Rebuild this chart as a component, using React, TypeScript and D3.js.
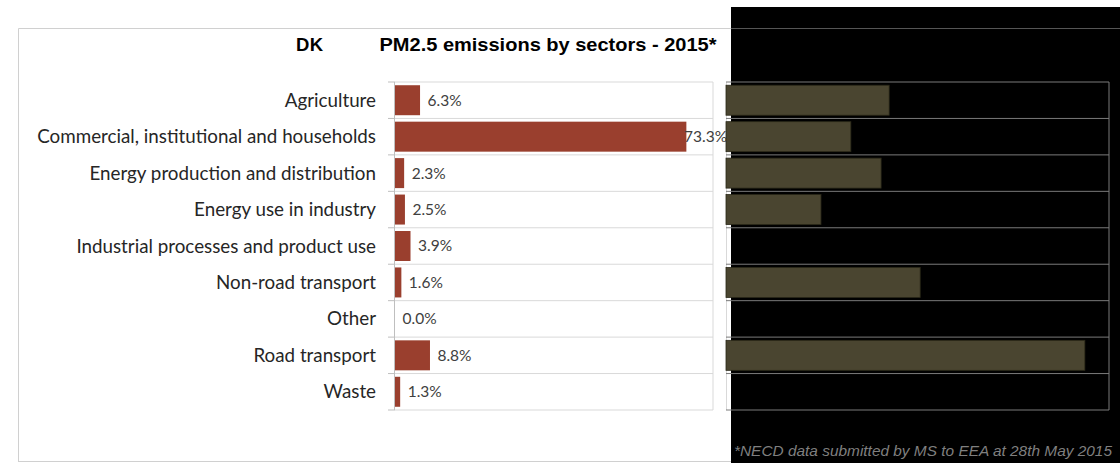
import React from "react";
import * as d3 from "d3";

const categories = [
  "Agriculture",
  "Commercial, institutional and households",
  "Energy production and distribution",
  "Energy use in industry",
  "Industrial processes and product use",
  "Non-road transport",
  "Other",
  "Road transport",
  "Waste",
];
const shares = [6.3, 73.3, 2.3, 2.5, 3.9, 1.6, 0.0, 8.8, 1.3];
const hiddenValues = [42.6, 32.6, 40.5, 24.8, 0, 50.7, 0, 93.7, 0];
const titleCountry = "DK";
const titleText = "PM2.5 emissions by sectors - 2015*";
const footnote = "*NECD data submitted by MS to EEA at 28th May 2015";

const W = 1120;
const H = 463;

export default function App() {
  const x = d3.scaleLinear().domain([0, 80]).range([395, 713]);
  const y = d3
    .scaleBand<string>()
    .domain(categories)
    .range([82, 410])
    .paddingInner(0.177)
    .paddingOuter(0.0885);
  const x2 = d3.scaleLinear().domain([0, 100]).range([726, 1109]);
  const step = y.step();
  const y0 = 82;
  const bounds = d3.range(categories.length + 1).map((i) => y0 + i * step);
  const fmt = (v: number) => d3.format(".1f")(v) + "%";

  return (
    <div style={{ position: "absolute", left: 0, top: 0 }}>
      <svg width={W} height={H} style={{ display: "block" }}>
        <rect x={0} y={0} width={W} height={H} fill="#ffffff" />
        {/* outer frame */}
        <line x1={18.5} y1={28.5} x2={731} y2={28.5} stroke="#d0d0d0" />
        <line x1={18.5} y1={28.5} x2={18.5} y2={462} stroke="#d0d0d0" />
        <line x1={18.5} y1={461.5} x2={731} y2={461.5} stroke="#d0d0d0" />

        {/* title */}
        <text
          x={296}
          y={50.5}
          fontFamily="Liberation Sans, Arial, sans-serif"
          fontWeight="bold"
          fontSize={18.5}
          textLength={27}
          lengthAdjust="spacing"
          fill="#000"
        >
          {titleCountry}
        </text>
        <text
          x={379.5}
          y={50.5}
          fontFamily="Liberation Sans, Arial, sans-serif"
          fontWeight="bold"
          fontSize={18.5}
          textLength={337}
          lengthAdjust="spacingAndGlyphs"
          fill="#000"
        >
          {titleText}
        </text>

        {/* left chart grid */}
        {bounds.map((b, i) => (
          <line key={"g" + i} x1={395} x2={713} y1={b} y2={b} stroke="#d9d9d9" />
        ))}
        <line x1={713} x2={713} y1={82} y2={410} stroke="#d9d9d9" />
        <line x1={394.5} x2={394.5} y1={82} y2={410} stroke="#bfbfbf" />
        {bounds.map((b, i) => (
          <line key={"t" + i} x1={388} x2={395} y1={b} y2={b} stroke="#bfbfbf" />
        ))}

        {/* bars */}
        {categories.map((c, i) => (
          <rect
            key={"b" + i}
            x={x(0)}
            y={y(c)!}
            width={Math.max(0, x(shares[i]) - x(0))}
            height={y.bandwidth()}
            fill="#9a3f2e"
          />
        ))}

        {/* category labels */}
        {categories.map((c, i) => (
          <text
            key={"c" + i}
            x={376}
            y={y(c)! + y.bandwidth() / 2}
            dy="0.35em"
            textAnchor="end"
            fontFamily="Lato, sans-serif"
            fontSize={18.8}
            fill="#262626"
          >
            {c}
          </text>
        ))}

        {/* value labels */}
        {categories.map((c, i) => (
          <text
            key={"v" + i}
            x={Math.min(x(shares[i]) + 7.5, x.range()[1] - 29)}
            y={y(c)! + y.bandwidth() / 2}
            dy="0.35em"
            fontFamily="Lato, sans-serif"
            fontSize={15.5}
            fill="#404040"
          >
            {fmt(shares[i])}
          </text>
        ))}

        {/* black overlay panel */}
        <rect x={731} y={7} width={W - 731} height={H - 7} fill="#000" />
        <line x1={731} x2={W} y1={28.5} y2={28.5} stroke="#555" />

        {/* hidden chart */}
        <line x1={726.5} x2={726.5} y1={82} y2={410} stroke="#d9d9d9" />
        {bounds.map((b, i) => (
          <line key={"h" + i} x1={726} x2={1109} y1={b} y2={b} stroke="#7a7a7a" />
        ))}
        <line x1={1109} x2={1109} y1={82} y2={410} stroke="#7a7a7a" />
        {categories.map((c, i) =>
          hiddenValues[i] > 0 ? (
            <rect
              key={"hb" + i}
              x={x2(0)}
              y={y(c)!}
              width={x2(hiddenValues[i]) - x2(0)}
              height={y.bandwidth()}
              fill="#4a4530"
              stroke="#2a2818"
              strokeWidth={0.8}
            />
          ) : null
        )}

        {/* footnote */}
        <text
          x={734}
          y={455.5}
          fontFamily="Liberation Sans, Arial, sans-serif"
          fontStyle="italic"
          fontSize={15.5}
          textLength={378}
          lengthAdjust="spacingAndGlyphs"
          fill="#7f7f7f"
        >
          {footnote}
        </text>
      </svg>
    </div>
  );
}
